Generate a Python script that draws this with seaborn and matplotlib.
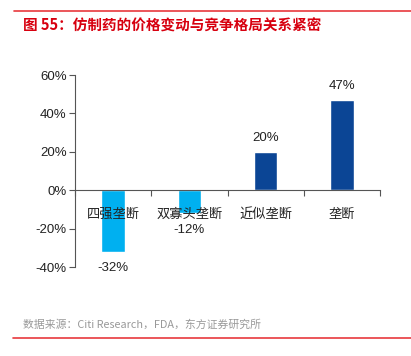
import matplotlib
matplotlib.use('Agg')
import matplotlib.pyplot as plt
import seaborn as sns
from matplotlib.lines import Line2D
from matplotlib.ticker import PercentFormatter, FixedLocator

categories = ['四强垄断', '双寡头垄断', '近似垄断', '垄断']
price_change = [-0.32, -0.12, 0.20, 0.47]
bar_colors = ['#00B0F0', '#00B0F0', '#0B4595', '#0B4595']

title_text = '图 55：仿制药的价格变动与竞争格局关系紧密'
source_text = '数据来源：Citi Research，FDA，东方证券研究所'

sns.set_theme(style='white')
plt.rcParams['font.family'] = ['Liberation Sans', 'Noto Sans CJK SC', 'DejaVu Sans']
plt.rcParams['axes.unicode_minus'] = False

fig = plt.figure(figsize=(4.11, 3.56), dpi=100)
ax = fig.add_axes([75 / 411, 1 - 267 / 356, 305 / 411, 192 / 356])

sns.barplot(x=categories, y=price_change, hue=categories, palette=bar_colors,
            legend=False, width=0.31, saturation=1, ax=ax)
ax.set_axisbelow(False)

ax.set_ylim(-0.4, 0.6)
ax.set_xlim(-0.5, 3.5)
ax.yaxis.set_major_locator(FixedLocator([-0.4, -0.2, 0, 0.2, 0.4, 0.6]))
ax.yaxis.set_major_formatter(PercentFormatter(1.0, decimals=0))
ax.set_xlabel('')
ax.set_ylabel('')

for side in ['top', 'right']:
    ax.spines[side].set_visible(False)
ax.spines['bottom'].set_position(('data', 0))
for side in ['left', 'bottom']:
    ax.spines[side].set_color('#555555')
    ax.spines[side].set_linewidth(0.8)

ax.tick_params(axis='y', left=True, length=4, width=0.8, color='#555555',
               labelsize=9.5, labelcolor='#222222', pad=2)
ax.tick_params(axis='x', bottom=False, labelsize=9.5, labelcolor='#222222', pad=7)
for lbl in ax.get_xticklabels():
    lbl.set_family(['Noto Sans CJK SC', 'DejaVu Sans'])
ax.set_xticks([-0.5, 0.5, 1.5, 2.5, 3.5], minor=True)
ax.tick_params(axis='x', which='minor', bottom=True, length=4, width=0.8,
               color='#555555', direction='out')

for i, v in enumerate(price_change):
    off = 10 if v > 0 else -12
    ax.annotate(f'{v * 100:.0f}%', (i, v), xytext=(0, off), textcoords='offset points',
                ha='center', va='center', fontsize=9.5, color='#222222')

red = '#E8383D'
fig.add_artist(Line2D([14 / 411, 1], [1 - 11 / 356] * 2, color=red, lw=1.2))
fig.add_artist(Line2D([13 / 411, 1], [1 - 338 / 356] * 2, color=red, lw=1.2))
fig.text(23 / 411, 1 - 26 / 356, title_text, color='#D7000F', fontsize=10.5,
         fontweight='bold', va='center', ha='left',
         family=['Noto Sans CJK SC', 'DejaVu Sans'])
fig.text(23 / 411, 1 - 325 / 356, source_text, color='#999999', fontsize=7.8,
         va='center', ha='left', family=['Noto Sans CJK SC', 'DejaVu Sans'])

fig.savefig('out.png', dpi=100)
